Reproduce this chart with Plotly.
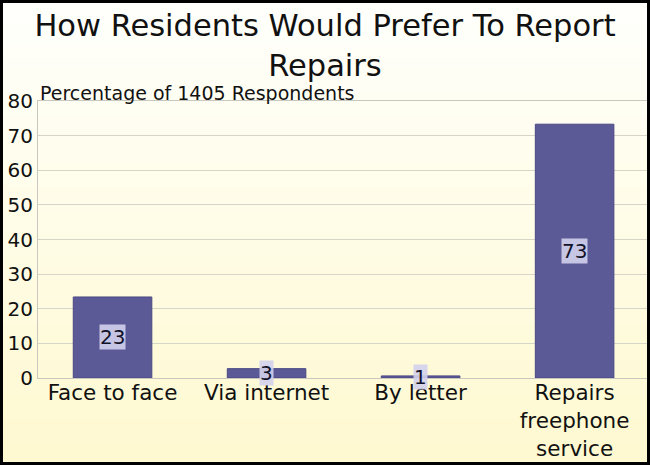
import plotly.graph_objects as go

categories = ["Face to face", "Via internet", "By letter", "Repairs<br>freephone<br>service"]
values = [23.4, 2.7, 0.6, 73.3]
labels = ["23", "3", "1", "73"]
y_ticks = [0, 10, 20, 30, 40, 50, 60, 70, 80]

FONT = "DejaVu Sans"
W, H = 650, 465
L, R, T, B = 38, 3, 101, 87
pw, ph = W - L - R, H - T - B

def px_x(p):
    return (p - L) / pw

def px_y(p):
    return (H - B - p) / ph

fig = go.Figure()
fig.add_trace(go.Bar(
    x=list(range(len(categories))), y=values,
    width=0.51,
    marker=dict(color="#5c5a96", line=dict(color="#4a4884", width=1)),
    hoverinfo="skip",
))

shapes = []
n = 40
top_c = (255, 255, 252)
bot_c = (254, 249, 208)
for i in range(n):
    t = i / (n - 1)
    c = tuple(round(top_c[k] + (bot_c[k] - top_c[k]) * t) for k in range(3))
    y0 = H * i / n
    y1 = H * (i + 1) / n + 1
    shapes.append(dict(type="rect", xref="paper", yref="paper",
                       x0=px_x(0), x1=px_x(W), y0=px_y(y1), y1=px_y(y0),
                       fillcolor="rgb(%d,%d,%d)" % c, line=dict(width=0), layer="below"))
shapes.append(dict(type="rect", xref="paper", yref="paper",
                   x0=px_x(1.5), x1=px_x(648.5), y0=px_y(463.5), y1=px_y(1.5),
                   line=dict(color="black", width=3), fillcolor="rgba(0,0,0,0)", layer="above"))

annotations = []
for i, (v, lab) in enumerate(zip(values, labels)):
    annotations.append(dict(x=i, y=v / 2, text=lab, showarrow=False,
                            font=dict(family=FONT, size=20, color="#111128"),
                            bgcolor="rgba(210,208,236,0.9)", borderpad=0))
annotations.append(dict(xref="paper", yref="paper", x=0, y=1, xanchor="left", yanchor="bottom",
                        text="Percentage of 1405 Respondents", showarrow=False, yshift=-5,
                        font=dict(family=FONT, size=19, color="#111111")))

fig.update_layout(
    width=W, height=H,
    margin=dict(l=L, r=R, t=T, b=B, autoexpand=False),
    paper_bgcolor="white",
    plot_bgcolor="rgba(0,0,0,0)",
    showlegend=False,
    title=dict(text="How Residents Would Prefer To Report<br>Repairs",
               x=0.5, xanchor="center", y=0.9225, yanchor="top",
               font=dict(family=FONT, size=30.5, color="#111111")),
    font=dict(family=FONT, color="#111111"),
    shapes=shapes,
    annotations=annotations,
    xaxis=dict(tickmode="array", tickvals=list(range(len(categories))), ticktext=categories,
               range=[-0.484, 3.47], showgrid=False, showline=True, linecolor="#c8c8c0",
               mirror=True, tickfont=dict(family=FONT, size=21.5), ticks="", fixedrange=True,
               automargin=False, ticklabelstandoff=-5),
    yaxis=dict(range=[0, 80], tickvals=y_ticks, showgrid=True, gridcolor="#d6d6c8",
               showline=True, linecolor="#c8c8c0", mirror=True, zeroline=False,
               tickfont=dict(family=FONT, size=20), ticks="", fixedrange=True,
               automargin=False),
    bargap=0.49,
)

fig.write_html("out.html", config={"displayModeBar": False},
               post_script="document.body.style.margin='0';document.body.style.overflow='hidden';")
